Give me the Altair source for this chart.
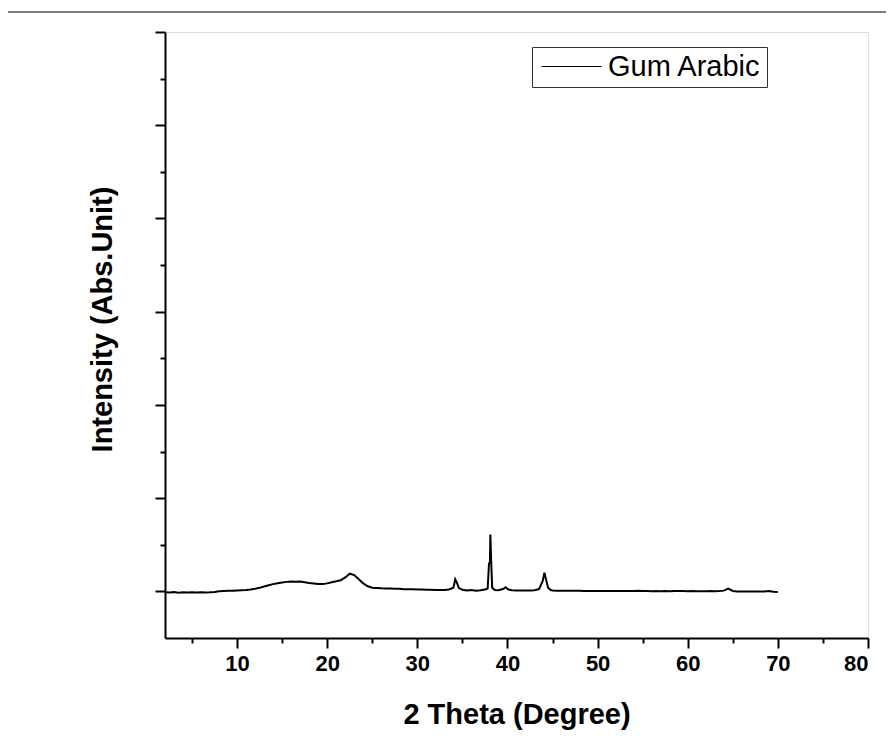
import altair as alt
import pandas as pd

# 2-theta positions (degree) and intensities
theta = [2.0, 2.5, 3.0, 3.5, 4.0, 4.5, 5.0, 5.5, 6.0, 6.5, 7.0, 7.5,
         8.0, 8.5, 9.0, 9.5, 10.0, 10.5, 11.0, 11.5, 12.0, 12.5, 13.0, 13.5,
         14.0, 14.5, 15.0, 15.5, 16.0, 16.5, 17.0, 17.5, 18.0, 18.5, 19.0, 19.5,
         20.0, 20.5, 21.0, 21.5, 22.0, 22.5, 23.0, 23.5, 24.0, 24.5, 25.0, 25.5,
         26.0, 26.5, 27.0, 27.5, 28.0, 28.5, 29.0, 29.5, 30.0, 30.5, 31.0, 31.5,
         32.0, 32.5, 33.0, 33.5, 34.0, 34.2, 34.4, 34.6, 35.0, 35.5, 36.0, 36.5,
         37.0, 37.5, 37.8, 37.95, 38.05, 38.1, 38.2, 38.3, 38.6, 39.0, 39.5, 39.8,
         40.1, 40.5, 41.0, 41.5, 42.0, 42.5, 43.0, 43.5, 43.9, 44.1, 44.3, 44.5,
         44.8, 45.0, 45.5, 46.0, 46.5, 47.0, 47.5, 48.0, 48.5, 49.0, 49.5, 50.0,
         50.5, 51.0, 51.5, 52.0, 52.5, 53.0, 53.5, 54.0, 54.5, 55.0, 55.5, 56.0,
         56.5, 57.0, 57.5, 58.0, 58.5, 59.0, 59.5, 60.0, 60.5, 61.0, 61.5, 62.0,
         62.5, 63.0, 63.5, 64.0, 64.5, 65.0, 65.5, 66.0, 66.5, 67.0, 67.5, 68.0,
         68.5, 69.0, 69.5, 70.0]
intensity = [-10, -12, -8, -14, -10, -12, -9, -13, -10, -12, -10, -6,
             2, 5, 8, 6, 10, 12, 15, 20, 28, 38, 52, 65,
             78, 88, 96, 102, 106, 104, 105, 98, 90, 84, 78, 78,
             86, 98, 108, 120, 150, 190, 175, 130, 85, 55, 40, 36,
             33, 32, 30, 28, 27, 24, 22, 22, 20, 19, 18, 17,
             16, 15, 16, 20, 40, 130, 90, 35, 18, 10, 14, 8,
             12, 20, 30, 300, 310, 610, 300, 40, 15, 12, 25, 45,
             20, 12, 10, 10, 9, 10, 12, 25, 110, 200, 120, 40,
             15, 10, 8, 8, 7, 7, 6, 6, 5, 5, 4, 5,
             4, 3, 4, 3, 4, 3, 5, 4, 8, 4, 3, 2,
             3, 2, 3, 2, 5, 3, 4, 2, 3, 1, 2, 1,
             3, 2, 3, 8, 30, 5, 0, -2, -1, -2, -1, -2,
             -1, 3, -4, -6]
series_name = "Gum Arabic"

x_ticks = list(range(5, 81, 5))
y_ticks = list(range(0, 6001, 500))

df = pd.DataFrame({"theta": theta, "intensity": intensity,
                   "series": [series_name] * len(theta)})

FONT = "Liberation Sans"

line = alt.Chart(df).mark_line(strokeWidth=2, clip=True).encode(
    x=alt.X("theta:Q",
            scale=alt.Scale(domain=[2, 80], nice=False, zero=False),
            axis=alt.Axis(values=x_ticks,
                          labelExpr="datum.value % 10 === 0 ? datum.label : ''",
                          tickSize={"condition": {"test": "datum.value % 10 === 0", "value": 10}, "value": 5},
                          tickWidth=2, tickColor="black",
                          domainColor="black", domainWidth=2,
                          grid=False,
                          labelFont=FONT, labelFontSize=22, labelFontWeight="bold",
                          labelColor="black", labelPadding=5,
                          title="2 Theta (Degree)", titleFont=FONT, titleFontSize=29,
                          titleFontWeight="bold", titleColor="black", titlePadding=26)),
    y=alt.Y("intensity:Q",
            scale=alt.Scale(domain=[-500, 6000], nice=False, zero=False),
            axis=alt.Axis(values=y_ticks, labels=False,
                          tickSize={"condition": {"test": "datum.value % 1000 === 0", "value": 10}, "value": 5},
                          tickWidth=2, tickColor="black",
                          domainColor="black", domainWidth=2,
                          grid=False,
                          title="Intensity (Abs.Unit)", titleFont=FONT, titleFontSize=29,
                          titleFontWeight="bold", titleColor="black",
                          titleAngle=270, titleAlign="center", titleBaseline="middle",
                          titleX=-63, titleY=287)),
    color=alt.Color("series:N", scale=alt.Scale(range=["black"]),
                    legend=alt.Legend(title=None, orient="none", legendX=367, legendY=15,
                                      symbolType="M-3,0H3", symbolSize=400,
                                      symbolStrokeWidth=1.2, symbolOffset=20,
                                      labelOffset=22,
                                      labelFont=FONT, labelFontSize=29, labelColor="black",
                                      padding=5, strokeColor="#333333",
                                      fillColor="white")),
)

border = alt.Chart(pd.DataFrame({"a": [0]})).mark_rule(
    color="#555555", strokeWidth=1.5, clip=False
).encode(x=alt.value(-157), x2=alt.value(721), y=alt.value(-20))

chart = alt.layer(border, line).properties(
    width=703, height=606,
    autosize=alt.AutoSizeParams(type="none"),
    padding={"left": 157, "top": 24, "right": 18, "bottom": 94},
).configure_view(stroke=None).configure(background="white")

chart.save("out.html", embed_options={"renderer": "svg", "actions": False})
